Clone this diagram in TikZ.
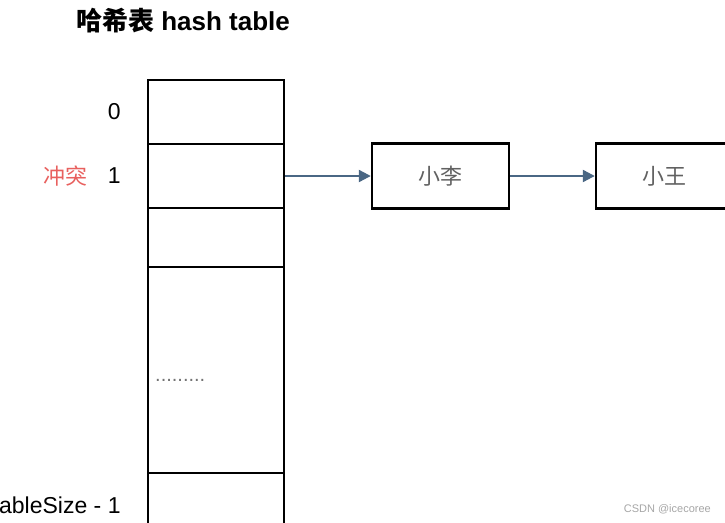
\documentclass[tikz,border=0pt]{standalone}
\usepackage{fontspec}
\setmainfont{Liberation Sans}
\newfontfamily\cjk{Noto Sans CJK SC}
\usetikzlibrary{arrows.meta,positioning}
\definecolor{arrowblue}{HTML}{4A6784}
\definecolor{clashred}{HTML}{E8605E}
\newcommand{\px}[1]{\fontsize{#1}{#1}\selectfont}

\begin{document}
\begin{tikzpicture}[
  x=1pt, y=-1pt, line width=2.4pt,
  cell/.style={draw, minimum width=136pt, inner sep=0pt},
  entry/.style={draw, minimum width=137pt, minimum height=65pt, inner sep=0pt, font=\cjk\px{22}, text=black!62},
  idx/.style={inner sep=0pt, font=\px{23}},
  arr/.style={-{Triangle[length=12pt, width=12pt]}, line width=2.2pt, draw=arrowblue, fill=arrowblue}
]
\useasboundingbox (0,0) rectangle (725,522);
% title
\node[font=\bfseries\px{26}] (title) at (183,21) {{\cjk 哈希表} hash table};
% buckets of the table
\node[cell, minimum height=64pt] (b0) at (216,112) {};
\node[cell, minimum height=64pt] (b1) at (216,176) {};
\node[cell, minimum height=59pt] (b2) at (216,237.5) {};
\node[cell, minimum height=206pt] (b3) at (216,370) {};
\node[cell, minimum height=64pt] (b4) at (216,505) {};
\node[anchor=base west, inner sep=0pt, font=\px{20}, text=black!55] (dots) at (154,381) {.........};
% indices
\node[idx, left=25pt of b0] (i0) {0};
\node[idx, left=25pt of b1] (i1) {1};
\node[idx, left=18pt of i1, font=\cjk\px{22}, text=clashred] (clash) {冲突};
\node[idx, left=25pt of b4] (i4) {tableSize - 1};
% chain
\node[entry] (li) at (440.5,176) {小李};
\node[entry] (wang) at (664.5,176) {小王};
\draw[arr] (b1.east) -- (li.west);
\draw[arr] (li.east) -- (wang.west);
% watermark
\node[anchor=east, inner sep=0pt, font=\px{11}, text=black!35] (mark) at (712,509) {CSDN @icecoree};
\end{tikzpicture}
\end{document}
